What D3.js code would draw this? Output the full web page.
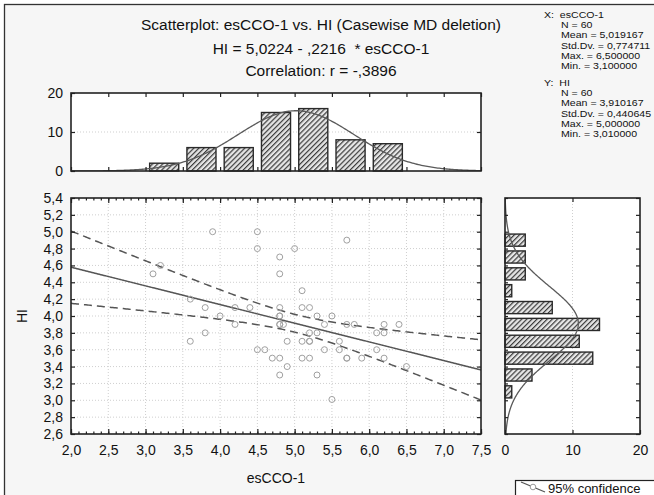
<!DOCTYPE html>
<html><head><meta charset="utf-8">
<script src="https://cdn.jsdelivr.net/npm/d3@7"></script>
<style>
body{margin:0;background:#fff}
svg{display:block;font-family:"Liberation Sans",Arial,sans-serif}
text.pre{white-space:pre}
</style>
</head><body>
<svg id="c" width="654" height="495"></svg>
<script>
// ---------- data ----------
const xValues = [3.1,3.2,3.9,4.5,4.5,3.6,3.8,4.0,4.2,4.4,4.2,4.8,4.8,5.0,5.7,5.1,4.8,5.1,5.2,4.8,
                 5.3,5.5,4.8,4.85,5.4,5.7,5.8,6.2,6.4,3.6,3.8,4.5,4.6,4.7,4.8,4.8,4.9,4.9,5.1,5.2,
                 5.2,5.3,5.1,5.2,5.3,5.4,5.6,5.6,5.7,5.5,5.9,6.1,6.1,6.2,6.2,6.5,4.8,4.8,5.2,5.7];
const yValues = [4.5,4.6,5.0,5.0,4.8,4.2,4.1,4.0,4.1,4.1,3.9,4.7,4.5,4.8,4.9,4.3,4.1,4.1,4.1,4.0,
                 4.0,4.0,3.9,3.9,3.9,3.9,3.9,3.9,3.9,3.7,3.8,3.6,3.6,3.5,3.5,3.3,3.7,3.4,3.7,3.7,
                 3.8,3.8,3.5,3.5,3.3,3.6,3.7,3.6,3.5,3.01,3.5,3.8,3.6,3.8,3.5,3.4,3.9,4.0,3.7,3.5];
const xBinStarts = [3.0,3.5,4.0,4.5,5.0,5.5,6.0];
const xBinCounts = [2,6,6,15,16,8,7];
const xBinWidth = 0.5;
const yBinStarts = [3.0,3.2,3.4,3.6,3.8,4.0,4.2,4.4,4.6,4.8];
const yBinCounts = [1,4,13,11,14,7,1,3,3,3];
const yBinWidth = 0.2;

const xTicks = [2.0,2.5,3.0,3.5,4.0,4.5,5.0,5.5,6.0,6.5,7.0,7.5];
const xTickLabels = ["2,0","2,5","3,0","3,5","4,0","4,5","5,0","5,5","6,0","6,5","7,0","7,5"];
const yTicks = [2.6,2.8,3.0,3.2,3.4,3.6,3.8,4.0,4.2,4.4,4.6,4.8,5.0,5.2,5.4];
const yTickLabels = ["2,6","2,8","3,0","3,2","3,4","3,6","3,8","4,0","4,2","4,4","4,6","4,8","5,0","5,2","5,4"];
const countTicks = [0,10,20];
const countTickLabels = ["0","10","20"];

const titleLines = ["Scatterplot: esCCO-1 vs. HI (Casewise MD deletion)",
                    "HI = 5,0224 - ,2216  * esCCO-1",
                    "Correlation: r = -,3896"];
const statsXHead = "X:  esCCO-1";
const statsXLines = ["N = 60","Mean = 5,019167","Std.Dv. = 0,774711","Max. = 6,500000","Min. = 3,100000"];
const statsYHead = "Y:  HI";
const statsYLines = ["N = 60","Mean = 3,910167","Std.Dv. = 0,440645","Max. = 5,000000","Min. = 3,010000"];
const xLabel = "esCCO-1", yLabel = "HI", legendLabel = "95% confidence";

// fitted statistics (as printed on the chart)
const intercept = 5.0224, slope = -0.2216, corr = -0.3896;
const nObs = 60, meanX = 5.019167, sdX = 0.774711, meanY = 3.910167, sdY = 0.440645;
const tCrit = 2.0017;

// ---------- layout ----------
const svg = d3.select("#c");
const P = {l:71, r:481, t:198, b:434};
const T = {t:93, b:171};
const R = {l:505, r:640};

const x = d3.scaleLinear([2,7.5],[P.l,P.r]);
const y = d3.scaleLinear([2.6,5.4],[P.b,P.t]);
const yc = d3.scaleLinear([0,20],[T.b,T.t]);
const xc = d3.scaleLinear([0,20],[R.l,R.r]);

// background + frame
svg.append("rect").attr("width",654).attr("height",495).attr("fill","#fff");
svg.append("rect").attr("x",4.5).attr("y",4.5).attr("width",700).attr("height",600)
   .attr("fill","#f6f6f6").attr("stroke","#333").attr("stroke-width",1.3);

const defs = svg.append("defs");
const pat = defs.append("pattern").attr("id","hatch").attr("patternUnits","userSpaceOnUse")
  .attr("width",3.6).attr("height",3.6).attr("patternTransform","rotate(45)");
pat.append("rect").attr("width",3.6).attr("height",3.6).attr("fill","#e6e6e6");
pat.append("line").attr("x1",0.6).attr("y1",0).attr("x2",0.6).attr("y2",3.6)
  .attr("stroke","#3a3a3a").attr("stroke-width",1.2);
defs.append("clipPath").attr("id","clipS").append("rect")
  .attr("x",P.l).attr("y",P.t).attr("width",P.r-P.l).attr("height",P.b-P.t);
defs.append("clipPath").attr("id","clipT").append("rect")
  .attr("x",P.l).attr("y",T.t).attr("width",P.r-P.l).attr("height",T.b-T.t);
defs.append("clipPath").attr("id","clipR").append("rect")
  .attr("x",R.l).attr("y",P.t).attr("width",R.r-R.l).attr("height",P.b-P.t);

// plot backgrounds
[[P.l,P.t,P.r-P.l,P.b-P.t],[P.l,T.t,P.r-P.l,T.b-T.t],[R.l,P.t,R.r-R.l,P.b-P.t]].forEach(r=>{
  svg.append("rect").attr("x",r[0]).attr("y",r[1]).attr("width",r[2]).attr("height",r[3]).attr("fill","#fff");
});

const gridStyle = s => s.attr("stroke","#cfcfcf").attr("stroke-width",1).attr("stroke-dasharray","1,2");

// ---------- scatter gridlines ----------
const gS = svg.append("g");
xTicks.slice(1,-1).forEach(v=>gridStyle(gS.append("line").attr("x1",x(v)).attr("x2",x(v)).attr("y1",P.t).attr("y2",P.b)));
yTicks.slice(1,-1).forEach(v=>gridStyle(gS.append("line").attr("y1",y(v)).attr("y2",y(v)).attr("x1",P.l).attr("x2",P.r)));

// top hist grid
gridStyle(svg.append("line").attr("x1",P.l).attr("x2",P.r).attr("y1",yc(10)).attr("y2",yc(10)));
// right hist grid
gridStyle(svg.append("line").attr("x1",xc(10)).attr("x2",xc(10)).attr("y1",P.t).attr("y2",P.b));

// ---------- histograms ----------
svg.append("g").selectAll("rect").data(xBinStarts).join("rect")
  .attr("x",(d)=>x(d+xBinWidth*0.11)).attr("width",(d)=>x(d+xBinWidth*0.89)-x(d+xBinWidth*0.11))
  .attr("y",(d,i)=>yc(xBinCounts[i])).attr("height",(d,i)=>yc(0)-yc(xBinCounts[i]))
  .attr("fill","url(#hatch)").attr("stroke","#2a2a2a").attr("stroke-width",1.4);

svg.append("g").selectAll("rect").data(yBinStarts).join("rect")
  .attr("y",(d)=>y(d+yBinWidth*0.86)).attr("height",(d)=>y(d+yBinWidth*0.14)-y(d+yBinWidth*0.86))
  .attr("x",xc(0)).attr("width",(d,i)=>xc(yBinCounts[i])-xc(0))
  .attr("fill","url(#hatch)").attr("stroke","#2a2a2a").attr("stroke-width",1.4);

// normal curves
const norm = (v,m,s)=>Math.exp(-0.5*((v-m)/s)**2)/(s*Math.sqrt(2*Math.PI));
const xs = d3.range(2,7.5001,0.02);
svg.append("path").attr("clip-path","url(#clipT)")
  .attr("d",d3.line().x(v=>x(v)).y(v=>yc(nObs*xBinWidth*norm(v,meanX,sdX)))(xs))
  .attr("fill","none").attr("stroke","#5a5a5a").attr("stroke-width",1.3);
const ys = d3.range(2.6,5.4001,0.01);
svg.append("path").attr("clip-path","url(#clipR)")
  .attr("d",d3.line().y(v=>y(v)).x(v=>xc(nObs*yBinWidth*norm(v,meanY,sdY)))(ys))
  .attr("fill","none").attr("stroke","#5a5a5a").attr("stroke-width",1.3);

// ---------- regression + confidence ----------
const Sxx = (nObs-1)*sdX*sdX;
const sRes = Math.sqrt(sdY*sdY*(nObs-1)*(1-corr*corr)/(nObs-2));
const fit = v=>intercept+slope*v;
const half = v=>tCrit*sRes*Math.sqrt(1/nObs+(v-meanX)**2/Sxx);
const gL = svg.append("g").attr("clip-path","url(#clipS)");
gL.append("path").attr("d",d3.line().x(v=>x(v)).y(v=>y(fit(v)))(xs))
  .attr("fill","none").attr("stroke","#555").attr("stroke-width",1.5);
gL.append("path").attr("d",d3.line().x(v=>x(v)).y(v=>y(fit(v)+half(v)))(xs))
  .attr("fill","none").attr("stroke","#555").attr("stroke-width",1.5).attr("stroke-dasharray","8,5");
gL.append("path").attr("d",d3.line().x(v=>x(v)).y(v=>y(fit(v)-half(v)))(xs))
  .attr("fill","none").attr("stroke","#555").attr("stroke-width",1.5).attr("stroke-dasharray","8,5");

// points
svg.append("g").selectAll("circle").data(xValues).join("circle")
  .attr("cx",d=>x(d)).attr("cy",(d,i)=>y(yValues[i])).attr("r",3)
  .attr("fill","none").attr("stroke","#a0a0a0").attr("stroke-width",1);

// ---------- axes ----------
function styleAxis(g){
  g.select(".domain").remove();
  g.selectAll("line").attr("stroke","#222").attr("stroke-width",1.2);
  g.selectAll("text").attr("fill","#111").attr("font-size",14).attr("font-family","Liberation Sans, Arial, sans-serif");
}
const minorX = d3.range(2,7.5001,0.1);
// scatter
svg.append("g").attr("transform",`translate(0,${P.b})`)
  .call(d3.axisBottom(x).tickValues(xTicks).tickFormat((d,i)=>xTickLabels[i]).tickSize(-5).tickPadding(11)).call(styleAxis);
svg.append("g").attr("transform",`translate(0,${P.b})`)
  .call(d3.axisBottom(x).tickValues(minorX).tickFormat("").tickSize(-2.5)).call(styleAxis);
svg.append("g").attr("transform",`translate(0,${P.t})`)
  .call(d3.axisTop(x).tickValues(minorX).tickFormat("").tickSize(-2.5)).call(styleAxis);
svg.append("g").attr("transform",`translate(0,${P.t})`)
  .call(d3.axisTop(x).tickValues(xTicks).tickFormat("").tickSize(-5)).call(styleAxis);
svg.append("g").attr("transform",`translate(${P.l},0)`)
  .call(d3.axisLeft(y).tickValues(yTicks).tickFormat((d,i)=>yTickLabels[i]).tickSize(-4).tickPadding(8)).call(styleAxis);
svg.append("g").attr("transform",`translate(${P.r},0)`)
  .call(d3.axisRight(y).tickValues(yTicks).tickFormat("").tickSize(-4)).call(styleAxis);
// top hist
svg.append("g").attr("transform",`translate(${P.l},0)`)
  .call(d3.axisLeft(yc).tickValues(countTicks).tickFormat((d,i)=>countTickLabels[i]).tickSize(-4).tickPadding(8)).call(styleAxis);
svg.append("g").attr("transform",`translate(${P.r},0)`)
  .call(d3.axisRight(yc).tickValues([10]).tickFormat("").tickSize(-4)).call(styleAxis);
svg.append("g").attr("transform",`translate(0,${T.t})`)
  .call(d3.axisTop(x).tickValues(xTicks).tickFormat("").tickSize(-4)).call(styleAxis);
svg.append("g").attr("transform",`translate(0,${T.b})`)
  .call(d3.axisBottom(x).tickValues(xTicks).tickFormat("").tickSize(-4)).call(styleAxis);
// right hist
svg.append("g").attr("transform",`translate(0,${P.b})`)
  .call(d3.axisBottom(xc).tickValues(countTicks).tickFormat((d,i)=>countTickLabels[i]).tickSize(-4).tickPadding(11)).call(styleAxis);
svg.append("g").attr("transform",`translate(0,${P.t})`)
  .call(d3.axisTop(xc).tickValues([10]).tickFormat("").tickSize(-4)).call(styleAxis);
svg.append("g").attr("transform",`translate(${R.l},0)`)
  .call(d3.axisLeft(y).tickValues(yTicks).tickFormat("").tickSize(-3)).call(styleAxis);
svg.append("g").attr("transform",`translate(${R.r},0)`)
  .call(d3.axisRight(y).tickValues(yTicks).tickFormat("").tickSize(-4)).call(styleAxis);

// frames
[[P.l,P.t,P.r-P.l,P.b-P.t],[P.l,T.t,P.r-P.l,T.b-T.t],[R.l,P.t,R.r-R.l,P.b-P.t]].forEach(r=>{
  svg.append("rect").attr("x",r[0]).attr("y",r[1]).attr("width",r[2]).attr("height",r[3])
    .attr("fill","none").attr("stroke","#222").attr("stroke-width",1.6);
});

// ---------- texts ----------
const tb = [30,54,76];
titleLines.forEach((s,i)=>svg.append("text").attr("class","pre").attr("x",321).attr("y",tb[i]).attr("text-anchor","middle")
  .attr("font-size",15.5).attr("fill","#111").text(s));

svg.append("text").attr("x",P.l+(P.r-P.l)/2).attr("y",483).attr("text-anchor","middle")
  .attr("font-size",14).attr("fill","#111").text(xLabel);
svg.append("text").attr("transform",`translate(27,${(P.t+P.b)/2}) rotate(-90)`).attr("text-anchor","middle")
  .attr("font-size",14).attr("fill","#111").text(yLabel);

// stats block: slightly widened text, as in the reference
const sx = 1.15, lh = 10.2;
const st = svg.append("g").attr("transform",`scale(${sx},1)`).attr("font-size",9.2).attr("fill","#111");
st.append("text").attr("class","pre").attr("x",544/sx).attr("y",18).text(statsXHead);
statsXLines.forEach((s,i)=>st.append("text").attr("x",561/sx).attr("y",18+(i+1)*lh).text(s));
st.append("text").attr("class","pre").attr("x",544/sx).attr("y",86).text(statsYHead);
statsYLines.forEach((s,i)=>st.append("text").attr("x",561/sx).attr("y",86+(i+1)*lh).text(s));

// legend
svg.append("rect").attr("x",515.5).attr("y",480.5).attr("width",160).attr("height",40)
  .attr("fill","#fff").attr("stroke","#222").attr("stroke-width",1.2);
svg.append("line").attr("x1",521).attr("y1",482).attr("x2",545).attr("y2",492)
  .attr("stroke","#555").attr("stroke-width",1.3);
svg.append("circle").attr("cx",533).attr("cy",487).attr("r",2.8).attr("fill","#fff").attr("stroke","#999");
svg.append("text").attr("x",548).attr("y",493).attr("font-size",13).attr("fill","#111").text(legendLabel);
</script>
</body></html>
